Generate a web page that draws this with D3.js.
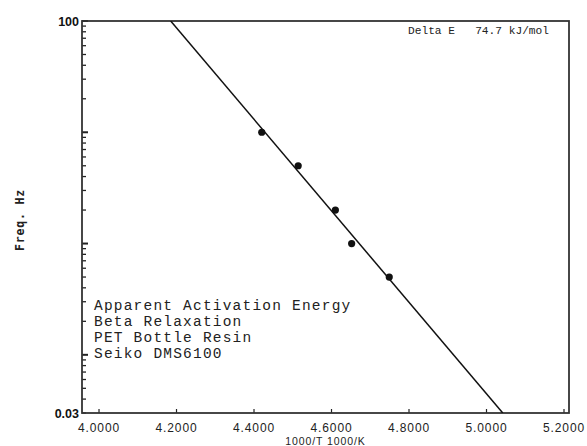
<!DOCTYPE html>
<html><head><meta charset="utf-8">
<script src="https://cdn.jsdelivr.net/npm/d3@7"></script>
<style>body{margin:0;background:#fff}svg{display:block}</style>
</head><body>
<svg id="c" width="587" height="446"></svg>
<script>
// data
const invT = [4.420, 4.514, 4.610, 4.652, 4.749];   // 1000/T (1000/K)
const freq = [10, 5, 2, 1, 0.5];                      // Hz
const fitX = [4.185, 5.042];                          // fitted line end points
const fitY = [100, 0.03];
const xTicks = [4.0, 4.2, 4.4, 4.6, 4.8, 5.0, 5.2];
const yLabels = [100, 0.03];
const notes = ["Apparent Activation Energy", "Beta Relaxation", "PET Bottle Resin", "Seiko DMS6100"];

const svg = d3.select("#c");
const L = 82, R = 569, T = 21, B = 413;
const x = d3.scaleLinear().domain([3.9561, 5.2129]).range([L, R]);
const y = d3.scaleLog().domain([0.03, 100]).range([B, T]);

svg.append("defs").append("clipPath").attr("id", "clip")
  .append("rect").attr("x", L).attr("y", T).attr("width", R - L).attr("height", B - T);

const isDecade = d => Math.abs(Math.log10(d) - Math.round(Math.log10(d))) < 1e-6;

// log ticks (left, inward)
const minor = [];
[0.01, 0.1, 1, 10].forEach(d => { for (let k = 1; k <= 9; k++) { const v = d * k; if (v >= 0.03 && v <= 100) minor.push(v); } });
minor.push(100);
svg.append("g").selectAll("line").data(minor).join("line")
  .attr("x1", L).attr("x2", d => L + (isDecade(d) ? 6 : 4))
  .attr("y1", d => y(d)).attr("y2", d => y(d))
  .attr("stroke", "#222").attr("stroke-width", d => (isDecade(d) ? 2 : 1.3));

// x ticks (bottom, inward)
svg.append("g").selectAll("line").data(xTicks).join("line")
  .attr("x1", d => x(d)).attr("x2", d => x(d)).attr("y1", B).attr("y2", B - 4)
  .attr("stroke", "#222").attr("stroke-width", 1.2);

// frame
svg.append("rect").attr("x", L).attr("y", T).attr("width", R - L).attr("height", B - T)
  .attr("fill", "none").attr("stroke", "#333").attr("stroke-width", 1.8);

// fit line
svg.append("line").attr("clip-path", "url(#clip)")
  .attr("x1", x(fitX[0])).attr("y1", y(fitY[0])).attr("x2", x(fitX[1])).attr("y2", y(fitY[1]))
  .attr("stroke", "#111").attr("stroke-width", 1.5);

// points
svg.append("g").selectAll("circle").data(invT).join("circle")
  .attr("cx", d => x(d)).attr("cy", (d, i) => y(freq[i])).attr("r", 3.6).attr("fill", "#111");

// x tick labels
svg.append("g").selectAll("text").data(xTicks).join("text")
  .attr("x", d => x(d)).attr("y", 432).attr("text-anchor", "middle")
  .attr("font-family", "Liberation Sans, Arial, sans-serif").attr("font-size", 12)
  .attr("letter-spacing", 0.9).attr("fill", "#222")
  .text(d => d.toFixed(4));

svg.append("text").attr("x", (L + R) / 2).attr("y", 445).attr("text-anchor", "middle")
  .attr("font-family", "Liberation Sans, Arial, sans-serif").attr("font-size", 10.5)
  .attr("letter-spacing", 0.9).attr("fill", "#222").text("1000/T 1000/K");

// y labels
svg.append("g").selectAll("text").data(yLabels).join("text")
  .attr("x", 79).attr("y", d => y(d)).attr("dy", "0.36em").attr("text-anchor", "end")
  .attr("font-family", "Liberation Sans, Arial, sans-serif").attr("font-weight", "bold")
  .attr("font-size", 12.5).attr("fill", "#111").text(d => String(d));

svg.append("text").attr("transform", "translate(24,220) rotate(-90)").attr("text-anchor", "middle")
  .attr("font-family", "DejaVu Sans Mono, monospace").attr("font-weight", "bold")
  .attr("font-size", 11.5).attr("letter-spacing", 0.8).attr("fill", "#222").text("Freq. Hz");

// Delta E annotation
svg.append("text").attr("x", 408).attr("y", 34)
  .attr("font-family", "Liberation Mono, monospace").attr("font-size", 11.2).attr("fill", "#222")
  .style("white-space", "pre").text("Delta E   74.7 kJ/mol");

// notes
svg.append("g").selectAll("text").data(notes).join("text")
  .attr("x", 94).attr("y", (d, i) => 310 + i * 16)
  .attr("font-family", "Liberation Mono, monospace").attr("font-size", 14.5)
  .attr("letter-spacing", 1.2).attr("fill", "#222").text(d => d);
</script>
</body></html>
